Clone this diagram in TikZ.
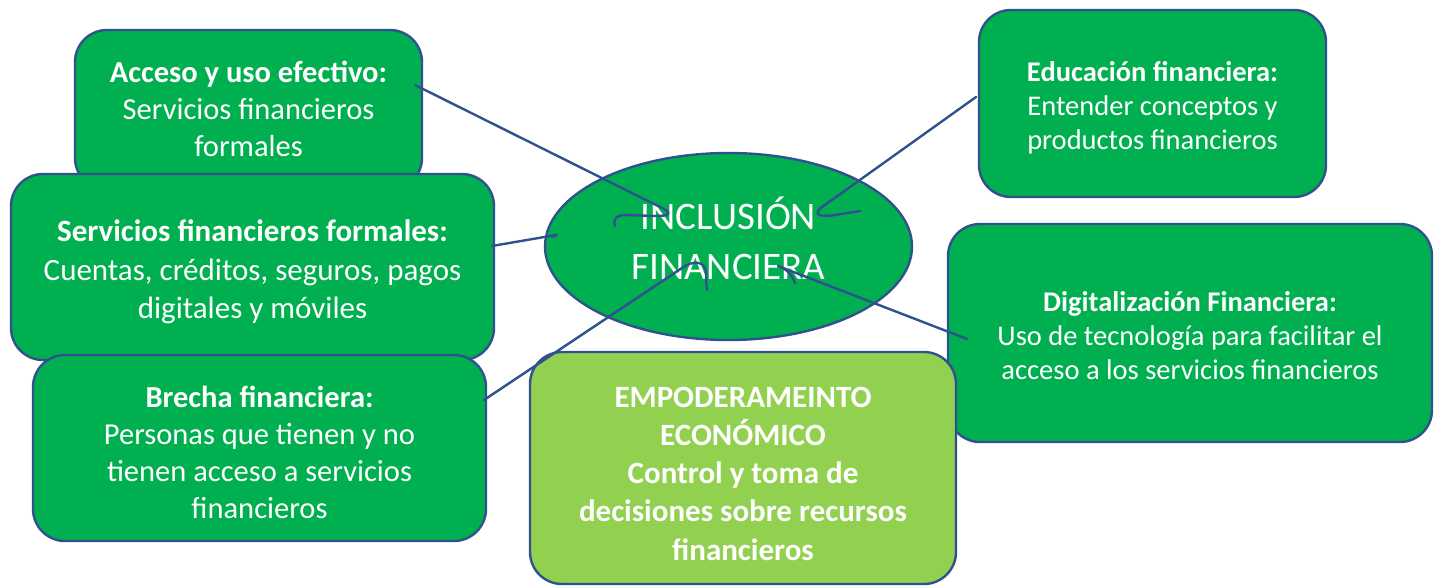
\documentclass[tikz,border=0pt]{standalone}
\usepackage{fontspec}
\setmainfont{Carlito}
\usetikzlibrary{shapes.geometric}
\definecolor{dkgreen}{HTML}{00B050}
\definecolor{ltgreen}{HTML}{92D050}
\definecolor{edgeblue}{HTML}{2F528F}
\newcommand\lines[2]{\raisebox{#1}[\height][\depth]{\begin{tabular}{@{}c@{}}#2\end{tabular}}}
\begin{document}
\begin{tikzpicture}[x=1pt,y=-1pt,
  box/.style={draw=edgeblue, line width=2.4pt, fill=dkgreen, rounded corners=32pt,
    text=white, inner sep=0pt},
  link/.style={draw=edgeblue, line width=2.4pt, line cap=round, line join=round},
  fA/.style={font=\fontsize{30.5}{37}\selectfont},
  fE/.style={font=\fontsize{28.5}{34}\selectfont}]
\useasboundingbox (0,0) rectangle (1439,586);

\node[box, fA, minimum width=347pt, minimum height=160pt] (acc) at (248.5,110)
  {\lines{-2pt}{\textbf{Acceso y uso efectivo:}\\Servicios financieros\\formales}};
\node[box, font=\fontsize{31}{38.5}\selectfont, minimum width=483pt, minimum height=186pt] (serv) at (252.5,267)
  {\lines{-5.5pt}{\textbf{Servicios financieros formales:}\\Cuentas, créditos, seguros, pagos\\digitales y móviles}};
\node[box, fA, minimum width=453pt, minimum height=186pt] (brecha) at (259.5,448)
  {\lines{-8pt}{\textbf{Brecha financiera:}\\Personas que tienen y no\\tienen acceso a servicios\\financieros}};
\node[box, fE, minimum width=347pt, minimum height=187pt] (edu) at (1152.5,103.5)
  {\lines{-5.5pt}{\textbf{Educación financiera:}\\Entender conceptos y\\productos financieros}};
\node[box, fE, minimum width=484pt, minimum height=218pt] (dig) at (1190,333)
  {\lines{-5.5pt}{\textbf{Digitalización Financiera:}\\Uso de tecnología para facilitar el\\acceso a los servicios financieros}};
\node[box, fill=ltgreen, font=\fontsize{31}{38.25}\selectfont\bfseries, minimum width=426pt, minimum height=232pt] (emp) at (743,468)
  {\lines{-8pt}{EMPODERAMEINTO\\ECONÓMICO\\Control y toma de\\decisiones sobre recursos\\financieros}};
\node[ellipse, draw=edgeblue, line width=2.4pt, fill=dkgreen, text=white,
  inner sep=0pt, minimum width=367pt, minimum height=187pt,
  font=\fontsize{39}{50}\selectfont] (inc) at (728.5,246.5)
  {\lines{2.5pt}{INCLUSIÓN\\FINANCIERA}};

\coordinate (a1) at (415,85);
\coordinate (e1) at (976,97);
\coordinate (s1) at (492,246);
\coordinate (b1) at (484,400);
\coordinate (d1) at (967,339);

\draw[link] (a1) -- (664,209) .. controls (673,214) and (668,216) .. (655,216)
  -- (626,215) .. controls (615,215) and (613,220) .. (615,226);
\draw[link] (e1) -- (822,207) .. controls (812,215) and (820,217) .. (835,215) -- (860,211);
\draw[link] (s1) -- (556,235) .. controls (558,234) and (556,236) .. (552,237);
\draw[link] (b1) -- (685,266) .. controls (700,258) and (708,265) .. (706,280) -- (707,290);
\draw[link] (d1) -- (778,266) .. controls (786,268) and (793,276) .. (795,283);
\end{tikzpicture}
\end{document}
